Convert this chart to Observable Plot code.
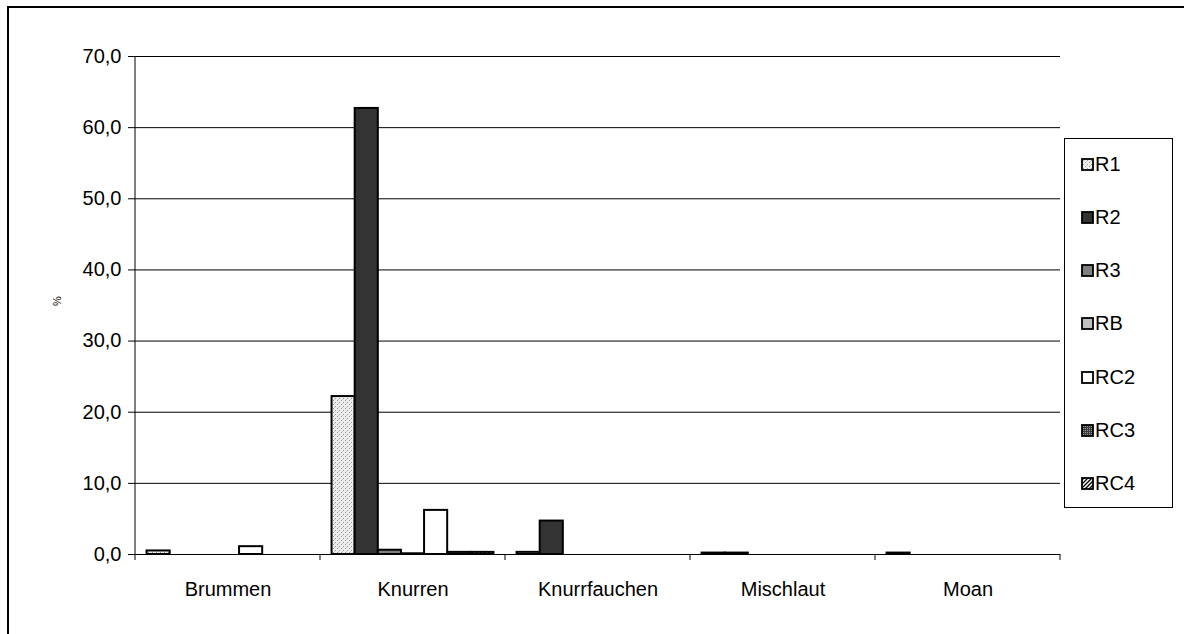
<!DOCTYPE html>
<html>
<head>
<meta charset="utf-8">
<script src="https://cdn.jsdelivr.net/npm/d3@7"></script>
<script src="https://cdn.jsdelivr.net/npm/@observablehq/plot@0.6"></script>
<style>
  html, body { margin: 0; padding: 0; background: #fff; }
  body { font-family: "Liberation Sans", Arial, sans-serif; }
  #wrap { position: relative; width: 1184px; height: 634px; overflow: hidden; }
  #frameline { position: absolute; left: 7px; top: 6px; width: 1200px; height: 700px;
    border-left: 2px solid #000; border-top: 2px solid #000; pointer-events: none; }
  #ylabel { position: absolute; left: 52px; top: 295px; font-size: 11px; transform: rotate(-90deg); transform-origin: center; }
  #legend { position: absolute; left: 1064px; top: 138px; width: 109px; height: 370px;
    border: 1px solid #000; box-sizing: border-box; background: #fff; }
  .item { position: absolute; left: 16px; height: 24px; display: flex; align-items: center; font-size: 20px; color: #000; }
  .item svg { margin-right: 1px; }
</style>
</head>
<body>
<div id="wrap">
  <div id="chart"></div>
  <div id="frameline"></div>
  <div id="ylabel">%</div>
  <div id="legend"></div>
</div>
<script>
// ---- data ----
const categories = ["Brummen", "Knurren", "Knurrfauchen", "Mischlaut", "Moan"];
const seriesNames = ["R1", "R2", "R3", "RB", "RC2", "RC3", "RC4"];
const R1  = [0.5, 22.2, 0.3, 0.2, 0.2];
const R2  = [0.0, 62.7, 4.7, 0.2, 0.0];
const R3  = [0.0, 0.6, 0.0, 0.0, 0.0];
const RB  = [0.0, 0.1, 0.0, 0.0, 0.0];
const RC2 = [1.1, 6.2, 0.0, 0.0, 0.0];
const RC3 = [0.0, 0.3, 0.0, 0.0, 0.0];
const RC4 = [0.0, 0.3, 0.0, 0.0, 0.0];
const yTicks = [0, 10, 20, 30, 40, 50, 60, 70];

// ---- styles ----
const seriesFills = ["url(#pR1)", "#333333", "#808080", "#c0c0c0", "#ffffff", "url(#pRC3)", "url(#pRC4)"];

const valuesBySeries = [R1, R2, R3, RB, RC2, RC3, RC4];
const data = [];
seriesNames.forEach((s, si) => {
  categories.forEach((c, ci) => {
    const v = valuesBySeries[si][ci];
    if (v > 0) data.push({category: c, series: s, value: v});
  });
});

const fmt = d => d.toFixed(1).replace(".", ",");

const chart = Plot.plot({
  width: 1184,
  height: 634,
  marginLeft: 135,
  marginRight: 124,
  marginTop: 56,
  marginBottom: 80,
  style: {fontFamily: "'Liberation Sans', Arial, sans-serif", fontSize: "20px", color: "#000", background: "transparent"},
  fx: {domain: categories, padding: 0, round: false, label: null, tickSize: 0, tickPadding: 27},
  x: {domain: seriesNames, paddingInner: 0, paddingOuter: 0.5, round: false, axis: null},
  y: {domain: [0, 70], ticks: yTicks, tickFormat: fmt, tickSize: 7, tickPadding: 7, label: null},
  color: {domain: seriesNames, range: seriesFills},
  marks: [
    Plot.ruleY(yTicks, {stroke: "#000", strokeWidth: 1, strokeOpacity: 1}),
    Plot.barY(data, {fx: "category", x: "series", y: "value", fill: "series", stroke: "#000", strokeWidth: 2})
  ]
});

document.getElementById("chart").appendChild(chart);

// ---- patterns ----
const svg = d3.select(chart);
const defs = svg.insert("defs", ":first-child");
function addPatterns(defs) {
  const p1 = defs.append("pattern").attr("id", "pR1").attr("patternUnits", "userSpaceOnUse").attr("width", 4).attr("height", 4);
  p1.append("rect").attr("width", 4).attr("height", 4).attr("fill", "#eeeeee");
  p1.append("rect").attr("x", 0).attr("y", 0).attr("width", 1).attr("height", 1).attr("fill", "#9a9a9a");
  p1.append("rect").attr("x", 2).attr("y", 2).attr("width", 1).attr("height", 1).attr("fill", "#9a9a9a");
  p1.append("rect").attr("x", 1).attr("y", 3).attr("width", 1).attr("height", 1).attr("fill", "#c8c8c8");
  const p3 = defs.append("pattern").attr("id", "pRC3").attr("patternUnits", "userSpaceOnUse").attr("width", 2).attr("height", 2);
  p3.append("rect").attr("width", 2).attr("height", 2).attr("fill", "#3a3a3a");
  p3.append("rect").attr("x", 0).attr("y", 0).attr("width", 1).attr("height", 1).attr("fill", "#9a9a9a");
  const p4 = defs.append("pattern").attr("id", "pRC4").attr("patternUnits", "userSpaceOnUse").attr("width", 4).attr("height", 4);
  p4.append("rect").attr("width", 4).attr("height", 4).attr("fill", "#ffffff");
  p4.append("path").attr("d", "M-1,1 L1,-1 M0,4 L4,0 M3,5 L5,3").attr("stroke", "#000").attr("stroke-width", 1.3);
}
addPatterns(defs);

// ---- axis line and category boundary ticks (via Plot scales) ----
const fxScale = chart.scale("fx");
const yScale = chart.scale("y");
const y0 = yScale.apply(0), yTop = yScale.apply(70);
const bounds = categories.map(c => fxScale.apply(c));
bounds.push(fxScale.apply(categories[categories.length - 1]) + fxScale.bandwidth);
const extra = svg.append("g").attr("stroke", "#000").attr("stroke-width", 1);
extra.append("line").attr("x1", bounds[0]).attr("x2", bounds[0]).attr("y1", yTop).attr("y2", y0);
bounds.forEach(b => {
  extra.append("line").attr("x1", b).attr("x2", b).attr("y1", y0).attr("y2", y0 + 6);
});

// ---- legend ----
const legend = document.getElementById("legend");
seriesNames.forEach((s, i) => {
  const item = document.createElement("div");
  item.className = "item";
  item.style.top = (13 + i * 53.3) + "px";
  item.innerHTML = `<svg width="13" height="13"><rect x="1" y="1" width="11" height="11" fill="${seriesFills[i]}" stroke="#000" stroke-width="1.8"/></svg><span>${s}</span>`;
  legend.appendChild(item);
});
</script>
</body>
</html>
